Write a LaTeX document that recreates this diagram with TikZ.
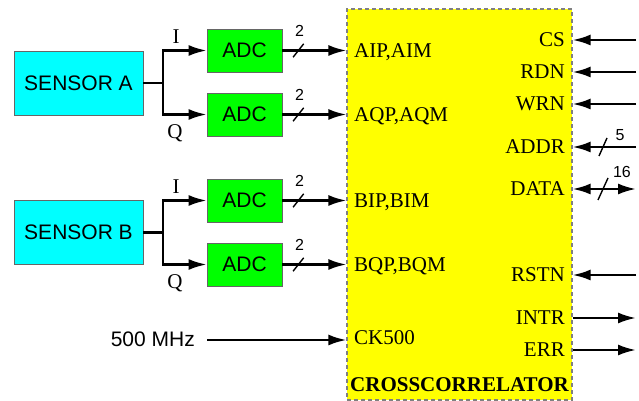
\documentclass[tikz,border=0pt]{standalone}
\usepackage{fontspec}
\setmainfont{Liberation Serif}
\setsansfont{Liberation Sans}
\usetikzlibrary{
  arrows.meta,
  positioning
}
\definecolor{sensorcyan}{RGB}{0,255,255}
\definecolor{adcgreen}{RGB}{0,255,0}
\definecolor{chipyellow}{RGB}{255,255,0}
\tikzset{
  sensor box/.style={
    draw=gray!80!black, fill=sensorcyan, thin,
    minimum width=64.5pt, minimum height=32pt,
    font=\sffamily\fontsize{10.5}{12}\selectfont
  },
  adc box/.style={
    draw=gray!80!black, fill=adcgreen, thin,
    minimum width=37.5pt, minimum height=21.5pt,
    font=\sffamily\fontsize{10.5}{12}\selectfont
  },
  chip box/.style={
    draw=gray, fill=chipyellow, line width=0.6pt,
    dash pattern=on 2pt off 1.5pt,
    minimum width=112.5pt, minimum height=195.5pt
  },
  pin label/.style={
    font=\fontsize{10.5}{12}\selectfont,
    text height=7pt, text depth=0pt, inner sep=0pt
  },
  sig arrow/.style={
    -{Latex[length=9pt,width=5.5pt]}, line width=1.2pt
  },
  both arrow/.style={
    {Latex[length=9pt,width=5.5pt]}-{Latex[length=9pt,width=5.5pt]}, line width=1.2pt
  },
  bus mark/.style={line width=0.7pt},
  bus width/.style={
    font=\sffamily\fontsize{8}{9}\selectfont, inner sep=0pt
  },
}
\begin{document}
\begin{tikzpicture}[x=0.5pt, y=-0.5pt, line width=1.2pt]

  \useasboundingbox (0,0) rectangle (639,401);

  % Crosscorrelator chip
  \node[chip box] (chip) at (459.5,204.5) {};
  \node[pin label, font=\bfseries\fontsize{10.5}{12}\selectfont]
    (chiptitle) at (459.5,385) {CROSSCORRELATOR};

  % Left pins
  \node[pin label, anchor=west] (pinAI) at (353,50.5) {AIP,AIM};
  \node[pin label, anchor=west] (pinAQ) at (353,114.5) {AQP,AQM};
  \node[pin label, anchor=west] (pinBI) at (353,200.5) {BIP,BIM};
  \node[pin label, anchor=west] (pinBQ) at (353,264.5) {BQP,BQM};
  \node[pin label, anchor=west] (pinCK) at (353,338) {CK500};

  % Right pins
  \node[pin label, anchor=east] (pinCS) at (566,40) {CS};
  \node[pin label, anchor=east] (pinRDN) at (566,72) {RDN};
  \node[pin label, anchor=east] (pinWRN) at (566,104) {WRN};
  \node[pin label, anchor=east] (pinADDR) at (566,147) {ADDR};
  \node[pin label, anchor=east] (pinDATA) at (566,189) {DATA};
  \node[pin label, anchor=east] (pinRSTN) at (566,275) {RSTN};
  \node[pin label, anchor=east] (pinINTR) at (566,318) {INTR};
  \node[pin label, anchor=east] (pinERR) at (566,350) {ERR};

  % Sensor A
  \node[sensor box] (sensA) at (78.5,83) {SENSOR A};
  \node[adc box] (adcAI) at (244.5,50.5) {ADC};
  \node[adc box] (adcAQ) at (244.5,114.5) {ADC};
  \coordinate (forkA) at (163,83);
  \draw (sensA.east) -- (forkA);
  \draw[sig arrow] (forkA) |- (adcAI.west);
  \draw[sig arrow] (forkA) |- (adcAQ.west);
  \node[pin label] (iA) at (176,37) {I};
  \node[pin label] (qA) at (175,132) {Q};

  % Sensor B
  \node[sensor box] (sensB) at (78.5,232.5) {SENSOR B};
  \node[adc box] (adcBI) at (244.5,200.5) {ADC};
  \node[adc box] (adcBQ) at (244.5,264.5) {ADC};
  \coordinate (forkB) at (163,232.5);
  \draw (sensB.east) -- (forkB);
  \draw[sig arrow] (forkB) |- (adcBI.west);
  \draw[sig arrow] (forkB) |- (adcBQ.west);
  \node[pin label] (iB) at (176,187) {I};
  \node[pin label] (qB) at (175,282) {Q};

  % ADC buses
  \foreach \a in {AI,AQ,BI,BQ} {
    \draw[sig arrow] (adc\a.east) -- (chip.west |- adc\a)
      coordinate[pos=0.25] (sl\a);
    \draw[bus mark] (sl\a) ++(-5.3,6.7) -- ++(10.6,-13.4);
    \node[bus width] at ([xshift=0.6pt, yshift=10pt]sl\a) {2};
  }

  % Clock
  \node[pin label, anchor=east, font=\sffamily\fontsize{10.5}{12}\selectfont]
    (clk) at (196,340) {500 MHz};
  \draw[sig arrow] ([xshift=5.5pt]clk.east) -- (chip.west |- clk);

  % Control inputs
  \foreach \p/\y in {CS/40, RDN/72, WRN/104, ADDR/147, RSTN/275} {
    \coordinate (in\p) at (636,\y);
    \draw[sig arrow] (in\p) -- (chip.east |- in\p);
  }
  \draw[bus mark] (603,147) ++(-4,9) -- ++(8,-18);
  \node[bus width] (wADDR) at (620,135) {5};

  % Data bus
  \coordinate (ioDATA) at (636,189);
  \draw[both arrow] (chip.east |- ioDATA) -- (ioDATA);
  \draw[bus mark] (603,189) ++(-5,11) -- ++(10,-22);
  \node[bus width] (wDATA) at (622,172) {16};

  % Outputs
  \foreach \p/\y in {INTR/318, ERR/350} {
    \coordinate (out\p) at (636,\y);
    \draw[sig arrow] (chip.east |- out\p) -- (out\p);
  }

\end{tikzpicture}
\end{document}
